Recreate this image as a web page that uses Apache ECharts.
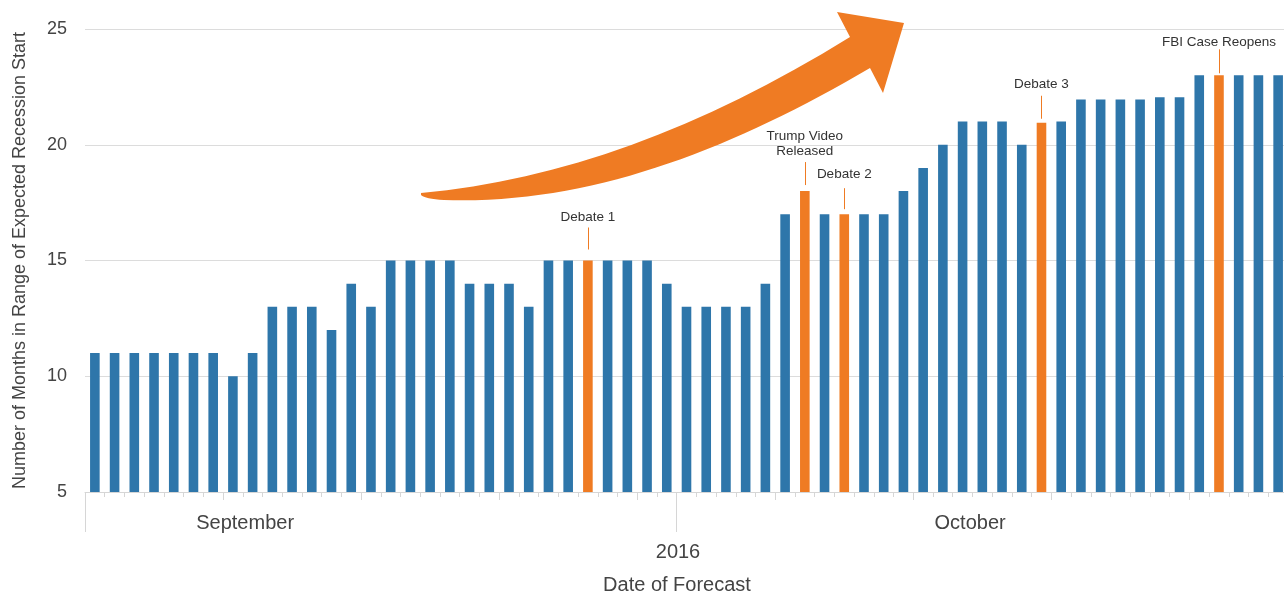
<!DOCTYPE html>
<html>
<head>
<meta charset="utf-8">
<script src="https://cdn.jsdelivr.net/npm/echarts@6/dist/echarts.min.js"></script>
<style>
html,body{margin:0;padding:0;background:#fff;}
#chart{width:1284px;height:597px;}
</style>
</head>
<body>
<div id="chart"></div>
<script>
// ---- data ----
const days = [
  'Sep 1','Sep 2','Sep 3','Sep 4','Sep 5','Sep 6','Sep 7','Sep 8','Sep 9','Sep 10',
  'Sep 11','Sep 12','Sep 13','Sep 14','Sep 15','Sep 16','Sep 17','Sep 18','Sep 19','Sep 20',
  'Sep 21','Sep 22','Sep 23','Sep 24','Sep 25','Sep 26','Sep 27','Sep 28','Sep 29','Sep 30',
  'Oct 1','Oct 2','Oct 3','Oct 4','Oct 5','Oct 6','Oct 7','Oct 8','Oct 9','Oct 10',
  'Oct 11','Oct 12','Oct 13','Oct 14','Oct 15','Oct 16','Oct 17','Oct 18','Oct 19','Oct 20',
  'Oct 21','Oct 22','Oct 23','Oct 24','Oct 25','Oct 26','Oct 27','Oct 28','Oct 29','Oct 30','Oct 31'
];
const months = ['September', 'October'];
const monthLabelDays = ['Sep 9', 'Oct 15'];
const monthStartDays = ['Sep 1', 'Oct 1'];
const weekTickDays = ['Sep 8','Sep 15','Sep 22','Sep 29','Oct 6','Oct 13','Oct 20','Oct 27'];
const yearLabel = '2016';
const yearLabelDay = 'Oct 1';
const months_in_range = [
  11,11,11,11,11,11,11,10,11,13,
  13,13,12,14,13,15,15,15,15,14,
  14,14,13,15,15,15,15,15,15,14,
  13,13,13,13,14,17,18,17,17,17,
  17,18,19,20,21,21,21,20,20.95,21,
  21.95,21.95,21.95,21.95,22.05,22.05,23,23,23,23,23
];
const eventDays = ['Sep 26', 'Oct 7', 'Oct 9', 'Oct 19', 'Oct 28'];
const eventLabels = ['Debate 1', 'Trump Video\nReleased', 'Debate 2', 'Debate 3', 'FBI Case Reopens'];
const yTicks = [5, 10, 15, 20, 25];

// ---- styles ----
const BLUE = '#2e76aa';
const ORANGE = '#ef7b23';
const FONT = '"Liberation Sans", Arial, sans-serif';
// per-annotation leader geometry: gap above bar, leader length, text centre above leader top
const annoGeom = [
  {gap: 11, len: 22, text: 10.5},
  {gap: 6, len: 23, text: 18.5},
  {gap: 5, len: 21, text: 13.5},
  {gap: 4, len: 23, text: 11.5},
  {gap: 2, len: 24, text: 7.5}
];
// decorative trend arrow outline (pixel path)
const ARROW_PATH = 'M 421 193 C 560 180 700 130 850 37 L 837 12 L 904 23 L 883 93 L 870 68 C 730 150 590 205 444 200 Q 425 199 421 195 Z';

const barData = months_in_range.map((v, i) => ({
  value: v,
  itemStyle: {color: eventDays.indexOf(days[i]) >= 0 ? ORANGE : BLUE}
}));
const annoData = eventDays.map((d, k) => [days.indexOf(d), months_in_range[days.indexOf(d)], k]);

const chart = echarts.init(document.getElementById('chart'), null, {renderer: 'canvas'});

const baseX = {
  type: 'category', data: days, gridIndex: 0, position: 'bottom', boundaryGap: true
};

chart.setOption({
  animation: false,
  backgroundColor: '#fff',
  grid: {left: 85, top: 29, width: 1203, height: 463, containLabel: false, outerBoundsMode: 'none'},
  xAxis: [
    Object.assign({}, baseX, {
      axisLine: {show: true, lineStyle: {color: '#d6d6d6', width: 1}},
      axisTick: {show: true, interval: 0, length: 5, lineStyle: {color: '#d6d6d6'}},
      axisLabel: {show: false},
      splitLine: {show: false},
      name: 'Date of Forecast',
      nameLocation: 'middle',
      nameGap: 83,
      nameTextStyle: {fontFamily: FONT, fontSize: 20, color: '#444', padding: [0, 19, 0, 0]}
    }),
    Object.assign({}, baseX, {
      axisLine: {show: false},
      axisTick: {show: true, length: 8, lineStyle: {color: '#d6d6d6'},
        interval: (i) => weekTickDays.indexOf(days[i]) >= 0},
      axisLabel: {
        show: true, margin: 21,
        interval: (i) => monthLabelDays.indexOf(days[i]) >= 0,
        formatter: (val) => {
          const k = monthLabelDays.indexOf(val);
          if (k < 0) return '';
          return k === 0 ? '{a|' + months[0] + '}' : '{b|' + months[1] + '}';
        },
        rich: {
          a: {fontFamily: FONT, fontSize: 20, color: '#444', padding: [0, 15, 0, 0]},
          b: {fontFamily: FONT, fontSize: 20, color: '#444', padding: [0, 0, 0, 15]}
        }
      },
      splitLine: {show: false}
    }),
    Object.assign({}, baseX, {
      axisLine: {show: false},
      axisTick: {show: true, length: 40, lineStyle: {color: '#d6d6d6'},
        interval: (i) => monthStartDays.indexOf(days[i]) >= 0},
      axisLabel: {
        show: true, margin: 50,
        interval: (i) => days[i] === yearLabelDay,
        formatter: (val) => val === yearLabelDay ? '{y|' + yearLabel + '}' : '',
        rich: {y: {fontFamily: FONT, fontSize: 20, color: '#444', padding: [0, 17, 0, 0]}}
      },
      splitLine: {show: false}
    })
  ],
  yAxis: {
    type: 'value', min: yTicks[0], max: yTicks[yTicks.length - 1], interval: 5,
    axisLine: {show: false},
    axisTick: {show: false},
    axisLabel: {fontFamily: FONT, fontSize: 18, color: '#444', margin: 18},
    splitLine: {show: true, lineStyle: {color: '#dcdcdc', width: 1}},
    name: 'Number of Months in Range of Expected Recession Start',
    nameLocation: 'middle',
    nameGap: 56,
    nameRotate: 90,
    nameTextStyle: {fontFamily: FONT, fontSize: 18, color: '#444'}
  },
  series: [
    {
      type: 'bar',
      xAxisIndex: 0,
      yAxisIndex: 0,
      data: barData,
      barWidth: 9.6,
      z: 2
    },
    {
      type: 'custom',
      xAxisIndex: 0,
      yAxisIndex: 0,
      data: annoData,
      z: 5,
      silent: true,
      renderItem: function (params, api) {
        const p = api.coord([api.value(0), api.value(1)]);
        const k = api.value(2);
        const g = annoGeom[k];
        const x = Math.round(p[0]) + 0.5;
        const yBottom = p[1] - g.gap;
        const yTop = yBottom - g.len;
        const children = [
          {type: 'line', shape: {x1: x, y1: yTop, x2: x, y2: yBottom},
           style: {stroke: ORANGE, lineWidth: 1}},
          {type: 'text', x: p[0], y: yTop - g.text,
           style: {text: eventLabels[k], textAlign: 'center', textVerticalAlign: 'middle',
                   fontFamily: FONT, fontSize: 13.5, fill: '#333', lineHeight: 15}}
        ];
        if (params.dataIndex === 0) {
          children.push({type: 'path', shape: {pathData: ARROW_PATH}, style: {fill: ORANGE}, z2: 10});
        }
        return {type: 'group', children: children};
      }
    }
  ]
});
</script>
</body>
</html>
